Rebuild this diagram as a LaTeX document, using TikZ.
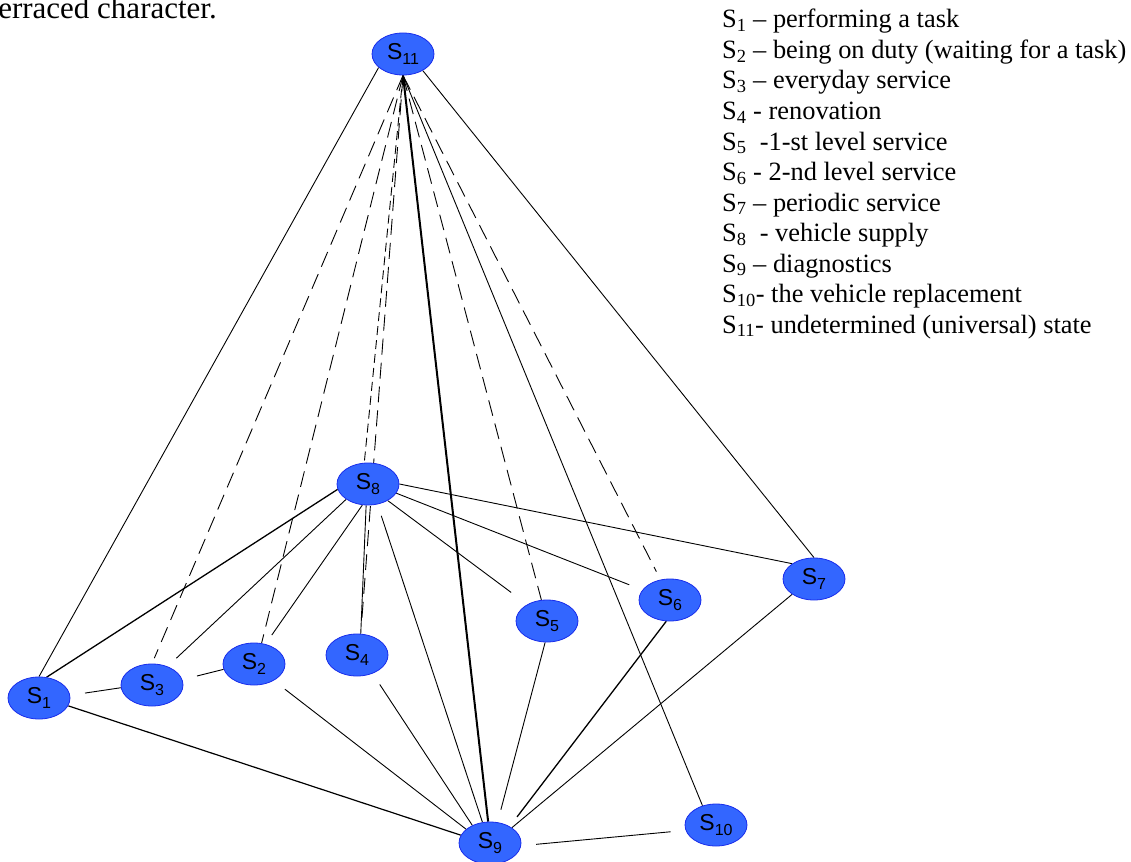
\documentclass[tikz,border=0pt]{standalone}
\usepackage{fontspec}
\setmainfont{Liberation Serif}
\newfontfamily\arialfont{Liberation Sans}
\usetikzlibrary{shapes.geometric,backgrounds}
\definecolor{nodeblue}{RGB}{51,102,255}
\definecolor{nodeedge}{RGB}{25,45,235}
\newcommand\nsub[1]{\raisebox{-0.2em}{\fontsize{16}{16}\selectfont #1}}
\begin{document}
\begin{tikzpicture}[x=1pt,y=-1pt,
  state/.style={ellipse, fill=nodeblue, draw=nodeedge, line width=0.8pt,
    minimum width=62pt, minimum height=42pt, inner sep=0pt,
    font=\arialfont\fontsize{23}{23}\selectfont},
  conn/.style={line width=0.9pt},
  heavy/.style={line width=2pt},
  longdash/.style={line width=0.9pt, dash pattern=on 16pt off 8pt},
  shortdash/.style={line width=0.9pt, dash pattern=on 9pt off 5pt},
  legend/.style={anchor=base west, inner sep=0pt, font=\fontsize{26.4}{30}\selectfont}]
\useasboundingbox (0,0) rectangle (1131,861);

% text cut at the top
\node[anchor=base east, inner sep=0pt, font=\fontsize{31}{31}\selectfont] (cut) at (217,19) {erraced character.};

% states
\node[state] (s11) at (403,54) {S\nsub{11}};
\node[state] (s8) at (368,484) {S\nsub{8}};
\node[state] (s1) at (39,698) {S\nsub{1}};
\node[state] (s3) at (152,685) {S\nsub{3}};
\node[state] (s2) at (254,664) {S\nsub{2}};
\node[state] (s4) at (357,655) {S\nsub{4}};
\node[state] (s5) at (547,621) {S\nsub{5}};
\node[state] (s6) at (670,600) {S\nsub{6}};
\node[state] (s7) at (814,579) {S\nsub{7}};
\node[state] (s10) at (716,825) {S\nsub{10}};
\node[state] (s9) at (490,843) {S\nsub{9}};

\begin{scope}[on background layer]
  % edges to S11
  \draw[conn] (s11.209) -- (s1.north);
  \draw[longdash, shorten >=6pt] (s11.south) -- (s3.north);
  \draw[longdash] (s11.south) -- (s2.70);
  \draw[shortdash] (s11.south) -- (s8.100);
  \draw[longdash, shorten >=10pt] (s11.south) -- (s4.80);
  \draw[heavy] (s11.south) -- (s9.95);
  \draw[longdash] (s11.south) -- (s5.105);
  \draw[conn] (s11.south) -- (s10.125);
  \draw[longdash, shorten >=9pt] (s11.south) -- (s6.115);
  \draw[conn] (s11.-40) -- (s7.north);
  % edges from S8
  \draw[conn, line width=1.3pt] (s8.190) -- (s1.70);
  \draw[conn, shorten >=12pt] (s8.215) -- (s3.50);
  \draw[conn, shorten >=11pt] (s8.255) -- (s2.60);
  \draw[conn] (s8.265) -- (s4.80);
  \draw[conn, shorten <=12pt] (s8.-65) -- (s9.110);
  \draw[conn, shorten >=20pt] (s8.-40) -- (s5.140);
  \draw[conn, shorten >=14pt] (s8.-18) -- (s6.160);
  \draw[conn] (s8.east) -- (s7.145);
  % edges to S9
  \draw[conn, line width=1.2pt] (s1.-15) -- (s9.165);
  \draw[conn, shorten <=14pt] (s2.-40) -- (s9.150);
  \draw[conn, shorten <=13pt] (s4.-50) -- (s9.135);
  \draw[conn, shorten >=13pt] (s5.-95) -- (s9.70);
  \draw[conn, line width=1.3pt, shorten >=12pt] (s6.-100) -- (s9.40);
  \draw[conn] (s7.215) -- (s9.35);
  \draw[conn, shorten <=15pt, shorten >=15pt] (s9.-5) -- (s10.190);
  % short links
  \draw[conn, shorten <=15pt] (s1.5) -- (s3.185);
  \draw[conn, shorten <=15pt] (s3.10) -- (s2.190);
\end{scope}

% legend
\foreach \t [count=\i] in {
  {S\textsubscript{1} -- performing a task},
  {S\textsubscript{2} -- being on duty (waiting for a task)},
  {S\textsubscript{3} -- everyday service},
  {S\textsubscript{4} - renovation},
  {S\textsubscript{5}\ \ -1-st level service},
  {S\textsubscript{6} - 2-nd level service},
  {S\textsubscript{7} -- periodic service},
  {S\textsubscript{8}\ \ - vehicle supply},
  {S\textsubscript{9} -- diagnostics},
  {S\textsubscript{10}- the vehicle replacement},
  {S\textsubscript{11}- undetermined (universal) state}}
  \node[legend] (l\i) at (722,{28+30.5*(\i-1)}) {\t};
\end{tikzpicture}
\end{document}
